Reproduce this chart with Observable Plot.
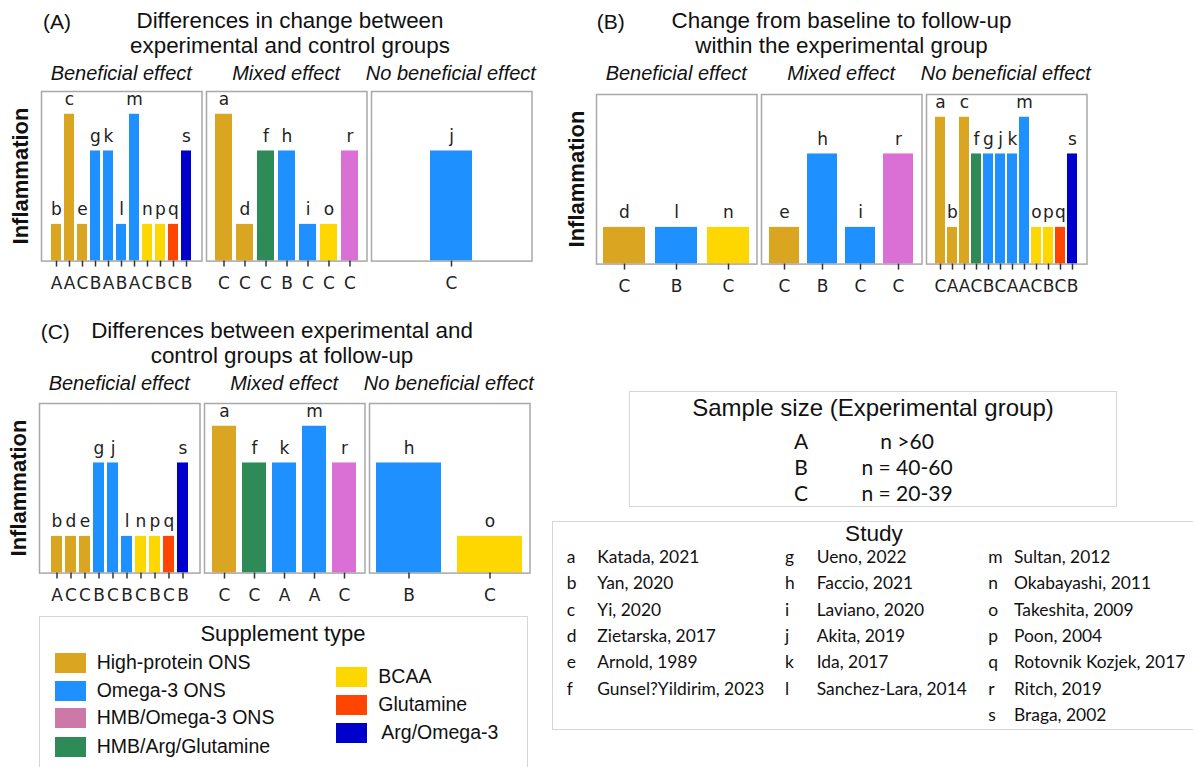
<!DOCTYPE html>
<html><head><meta charset="utf-8">
<script src="https://cdn.jsdelivr.net/npm/d3@7"></script>
<script src="https://cdn.jsdelivr.net/npm/@observablehq/plot@0.6"></script>
<style>
body{margin:0;background:#fff;}
#root{position:relative;width:1193px;height:767px;overflow:hidden;background:#fff;font-family:"Liberation Sans",Arial,sans-serif;color:#111;}
.t{position:absolute;white-space:nowrap;line-height:1;}
.c{transform:translate(-50%,-50%);}
.l{transform:translate(0,-50%);}
.box{position:absolute;border:1.5px solid #d6d6d6;box-sizing:border-box;}
.cal{font-family:Lato,"Open Sans",sans-serif;}
.sw{position:absolute;}
</style></head><body><div id="root"></div>
<script>
// ---------- DATA ----------
const studies   = ["a","b","c","d","e","f","g","h","i","j","k","l","m","n","o","p","q","r","s"];
const authors   = ["Katada, 2021","Yan, 2020","Yi, 2020","Zietarska, 2017","Arnold, 1989","Gunsel?Yildirim, 2023",
                   "Ueno, 2022","Faccio, 2021","Laviano, 2020","Akita, 2019","Ida, 2017","Sanchez-Lara, 2014",
                   "Sultan, 2012","Okabayashi, 2011","Takeshita, 2009","Poon, 2004","Rotovnik Kozjek, 2017","Ritch, 2019","Braga, 2002"];
const supplement = ["High-protein ONS","High-protein ONS","High-protein ONS","High-protein ONS","High-protein ONS","HMB/Arg/Glutamine",
                   "Omega-3 ONS","Omega-3 ONS","Omega-3 ONS","Omega-3 ONS","Omega-3 ONS","Omega-3 ONS",
                   "Omega-3 ONS","BCAA","BCAA","BCAA","Glutamine","HMB/Omega-3 ONS","Arg/Omega-3"];
const sampleSize = ["C","A","A","C","C","C","B","B","C","C","A","B","A","C","C","B","C","C","B"];
const barValue   = [4,1,4,1,1,3,3,3,1,3,3,1,4,1,1,1,1,3,3];

const typeNames  = ["High-protein ONS","Omega-3 ONS","HMB/Omega-3 ONS","HMB/Arg/Glutamine","BCAA","Glutamine","Arg/Omega-3"];
const typeColors = ["#DAA520","#1E90FF","#DA70D6","#2E8B57","#FFD700","#FF4500","#0000CD"];
const legendSwatchColors = ["#DAA520","#1E90FF","#CC79A7","#2E8B57","#FFD700","#FF4500","#0000CD"];

const sizeCodes  = ["A","B","C"];
const sizeRanges = ["n >60","n = 40-60","n = 20-39"];

const effectNames = ["Beneficial effect","Mixed effect","No beneficial effect"];
const panelA = [["b","c","e","g","k","l","m","n","p","q","s"], ["a","d","f","h","i","o","r"], ["j"]];
const panelB = [["d","l","n"], ["e","h","i","r"], ["a","b","c","f","g","j","k","m","o","p","q","s"]];
const panelC = [["b","d","e","g","j","l","n","p","q","s"], ["a","f","k","m","r"], ["h","o"]];

const titleA = ["Differences in change between","experimental and control groups"];
const titleB = ["Change from baseline to follow-up","within the experimental group"];
const titleC = ["Differences between experimental and","control groups at follow-up"];
const yLabel = "Inflammation";

// ---------- LAYOUT ----------
const root = document.getElementById("root");
const FW = 160.5, GAP = 4.3, FH = 169.6, YMAX = 4.62;
const idx = Object.fromEntries(studies.map((s,i)=>[s,i]));

function addText(txt, x, y, cls, style){
  const d = document.createElement("div");
  d.className = "t " + cls;
  d.textContent = txt;
  d.style.left = x + "px"; d.style.top = y + "px";
  Object.assign(d.style, style||{});
  root.appendChild(d);
  return d;
}

function subplot(ids, left, top, pO){
  const n = ids.length;
  const data = ids.map(id => ({id, v: barValue[idx[id]], type: supplement[idx[id]]}));
  const po = pO != null ? pO : 0.05*(n-0.2);
  const p = Plot.plot({
    width: FW + 4, height: FH + 4 + 44,
    marginLeft: 2, marginRight: 2, marginTop: 2, marginBottom: 46,
    x: {type:"band", domain: ids, paddingInner: 0.2, paddingOuter: po, align: 0.5},
    y: {domain:[0, YMAX], axis: null},
    color: {domain: typeNames, range: typeColors},
    marks: [
      Plot.barY(data, {x:"id", y:"v", fill:"type"}),
      Plot.text(data, {x:"id", y:"v", text:"id", dy:-14.5, lineAnchor:"middle", fontSize:17, fill:"#222"}),
      Plot.frame({stroke:"#a8a8a8", strokeWidth:1.5}),
      Plot.axisX({tickSize:6, tickPadding:10, tickFormat: d => sampleSize[idx[d]], fontSize:17, label:null, strokeWidth:1.5, stroke:"#333", fill:"#222"})
    ],
    style: {fontFamily:"'DejaVu Sans', sans-serif", fontSize:"17px", background:"transparent", overflow:"visible", color:"#222"}
  });
  p.style.position = "absolute";
  p.style.left = (left-2) + "px";
  p.style.top = (top-2) + "px";
  root.appendChild(p);
}

const groups = [
  {tag:"(A)", title:titleA, panels:panelA, x0:41,  y0:91,    tagX:43,    titleX:290,   titleY:20.5, subY:73.3,  ylabX:20.5, pO:[null,null,1.14]},
  {tag:"(B)", title:titleB, panels:panelB, x0:596, y0:94,    tagX:596.7, titleX:841.5, titleY:20.5, subY:73.3,  ylabX:577,  pO:[null,null,null]},
  {tag:"(C)", title:titleC, panels:panelC, x0:39,  y0:402.7, tagX:40.7,  titleX:282,   titleY:330.7,subY:383.3, ylabX:18.5, pO:[null,null,null]}
];

for (const g of groups){
  addText(g.tag, g.tagX, g.titleY, "l", {fontSize:"21px"});
  g.title.forEach((line,i)=> addText(line, g.titleX, g.titleY + 25*i, "c", {fontSize:"22.4px"}));
  g.panels.forEach((ids,k)=>{
    const left = g.x0 + k*(FW+GAP);
    subplot(ids, left, g.y0, g.pO[k]);
    addText(effectNames[k], left + FW/2, g.subY, "c", {fontSize:"20px", fontStyle:"italic"});
  });
  const yl = addText(yLabel, g.ylabX, g.y0 + FH/2, "", {fontSize:"22px", fontWeight:"bold"});
  yl.style.transform = "translate(-50%,-50%) rotate(-90deg)";
}

// ---------- Supplement legend ----------
(function(){
  const b = document.createElement("div"); b.className="box";
  Object.assign(b.style,{left:"39px",top:"616px",width:"489px",height:"180px"});
  root.appendChild(b);
  addText("Supplement type", 283, 634.3, "c", {fontSize:"22px"});
  const col1 = [0,1,2,3], col2 = [4,5,6];
  const rows1 = [662.7,690.7,718.3,746.7], rows2 = [677.3,705,732.7];
  col1.forEach((ti,r)=>{
    const s=document.createElement("div"); s.className="sw";
    Object.assign(s.style,{left:"55px",top:(rows1[r]-10)+"px",width:"31px",height:"20px",background:legendSwatchColors[ti]});
    root.appendChild(s);
    addText(typeNames[ti], 96.7, rows1[r], "l", {fontSize:"19.5px"});
  });
  col2.forEach((ti,r)=>{
    const s=document.createElement("div"); s.className="sw";
    Object.assign(s.style,{left:"336px",top:(rows2[r]-10)+"px",width:"31px",height:"20px",background:legendSwatchColors[ti]});
    root.appendChild(s);
    addText(typeNames[ti], 378.3 + (r===2?3:0), rows2[r], "l", {fontSize:"19.5px"});
  });
})();

// ---------- Sample size legend ----------
(function(){
  const b = document.createElement("div"); b.className="box";
  Object.assign(b.style,{left:"629px",top:"390.7px",width:"488px",height:"116px"});
  root.appendChild(b);
  addText("Sample size (Experimental group)", 873, 408.3, "c", {fontSize:"24px"});
  const ys=[440,465.8,491.7];
  sizeCodes.forEach((c,i)=>{
    addText(c, 801, ys[i], "c cal", {fontSize:"21px"});
    addText(sizeRanges[i], 907, ys[i], "c cal", {fontSize:"21px"});
  });
})();

// ---------- Study legend ----------
(function(){
  const b = document.createElement("div"); b.className="box";
  Object.assign(b.style,{left:"552.3px",top:"521px",width:"660px",height:"209px"});
  root.appendChild(b);
  addText("Study", 874, 533.7, "c", {fontSize:"22.6px"});
  const cols = [[0,6,566.7,597.3],[6,12,785,816.7],[12,19,988.3,1014]];
  cols.forEach(([a,bb,lx,nx])=>{
    for(let i=a;i<bb;i++){
      const y = 556.7 + 26.4*(i-a);
      addText(studies[i], lx, y, "l cal", {fontSize:"17.4px"});
      addText(authors[i], nx, y, "l cal", {fontSize:"17.4px"});
    }
  });
})();
</script></body></html>
